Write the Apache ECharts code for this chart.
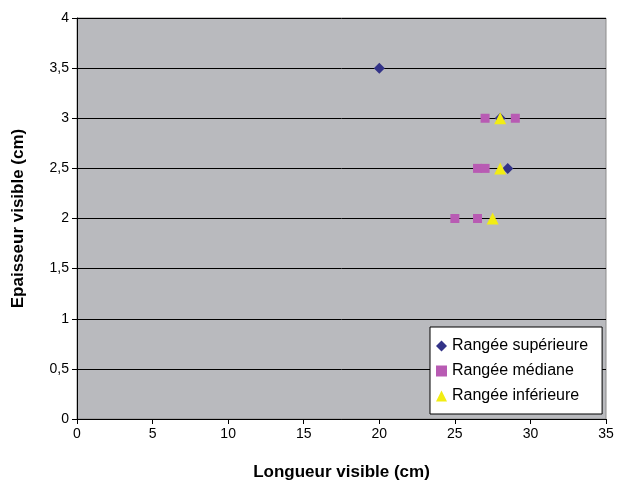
<!DOCTYPE html>
<html>
<head>
<meta charset="utf-8">
<script src="https://cdn.jsdelivr.net/npm/echarts@6/dist/echarts.min.js"></script>
<style>
  html, body { margin: 0; padding: 0; background: #fff; }
  #chart { width: 618px; height: 486px; }
</style>
</head>
<body>
<div id="chart"></div>
<script>
const superieure = [[20, 3.5], [28.5, 2.5], [28, 3]];
const mediane = [[27, 3], [29, 3], [26.5, 2.5], [27, 2.5], [25, 2], [26.5, 2]];
const inferieure = [[28, 3], [28, 2.5], [27.5, 2]];

const myChart = echarts.init(document.getElementById('chart'));
const font = 'Liberation Sans, Arial, sans-serif';
const fmt = v => String(v).replace('.', ',');

const option = {
  animation: false,
  textStyle: { fontFamily: font },
  grid: {
    left: 77, right: 12, top: 18, bottom: 66,
    show: true, backgroundColor: '#b9babe', borderColor: '#8c8c8c', borderWidth: 1
  },
  xAxis: {
    type: 'value', min: 0, max: 35, interval: 5,
    name: 'Longueur visible (cm)', nameLocation: 'middle', nameGap: 45,
    nameTextStyle: { fontSize: 17, fontWeight: 'bold', color: '#000', fontFamily: font },
    axisLine: { show: true, lineStyle: { color: '#000', width: 1 } },
    axisTick: { show: true, inside: false, length: 5, lineStyle: { color: '#000' } },
    axisLabel: { color: '#000', fontSize: 14, margin: 8, fontFamily: font },
    splitLine: { show: false }
  },
  yAxis: {
    type: 'value', min: 0, max: 4, interval: 0.5,
    name: 'Epaisseur visible (cm)', nameLocation: 'middle', nameGap: 50,
    nameTextStyle: { fontSize: 17, fontWeight: 'bold', color: '#000', fontFamily: font },
    axisLine: { show: true, lineStyle: { color: '#000', width: 1 } },
    axisTick: { show: true, inside: false, length: 5, lineStyle: { color: '#000' } },
    axisLabel: { color: '#000', fontSize: 14, margin: 8, formatter: fmt, fontFamily: font },
    splitLine: { show: true, lineStyle: { color: '#000', width: 1 } }
  },
  legend: {
    orient: 'vertical',
    left: 430, top: 327,
    backgroundColor: '#fff', borderColor: '#000', borderWidth: 1,
    padding: [11, 14, 10, 6],
    itemGap: 9, itemWidth: 11, itemHeight: 11,
    textStyle: { fontSize: 16, color: '#000', fontFamily: font },
    data: [
      { name: 'Rangée supérieure', icon: 'diamond' },
      { name: 'Rangée médiane', icon: 'rect' },
      { name: 'Rangée inférieure', icon: 'triangle' }
    ]
  },
  series: [
    {
      name: 'Rangée supérieure', type: 'scatter', symbol: 'diamond', symbolSize: 11,
      itemStyle: { color: '#333388', opacity: 1 }, data: superieure
    },
    {
      name: 'Rangée médiane', type: 'scatter', symbol: 'rect', symbolSize: 9,
      itemStyle: { color: '#b85bb3', opacity: 1 }, data: mediane
    },
    {
      name: 'Rangée inférieure', type: 'scatter', symbol: 'triangle', symbolSize: 12,
      itemStyle: { color: '#f2ed13', opacity: 1 }, data: inferieure
    }
  ]
};

option && myChart.setOption(option);
</script>
</body>
</html>
